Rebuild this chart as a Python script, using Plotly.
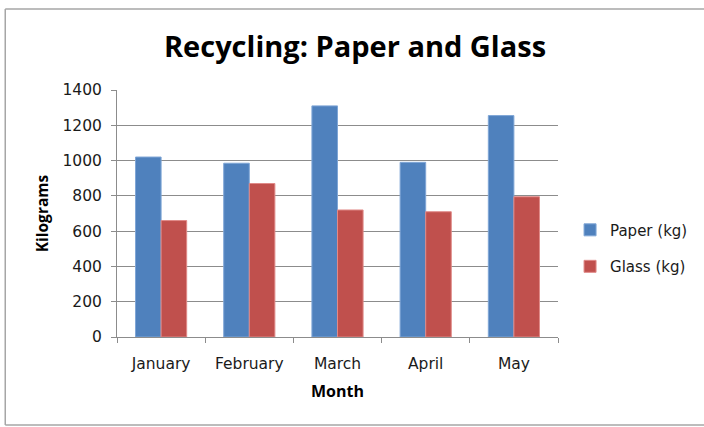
import plotly.graph_objects as go

months = ["January", "February", "March", "April", "May"]
paper_kg = [1020, 985, 1310, 990, 1255]
glass_kg = [660, 870, 720, 710, 795]
y_ticks = [0, 200, 400, 600, 800, 1000, 1200, 1400]

BLUE = "#4F81BD"
RED = "#C0504D"
GRID = "#8C8C8C"
TITLE_FONT = "'Open Sans', Lato, sans-serif"
LABEL_FONT = "'DejaVu Sans', 'Open Sans', sans-serif"
TXT = "#1a1a1a"

fig = go.Figure()
fig.add_trace(go.Bar(
    x=months, y=paper_kg, name="Paper (kg)", legendgroup="paper",
    marker=dict(color=BLUE, line=dict(color="#7FA6D6", width=1)),
))
fig.add_trace(go.Bar(
    x=months, y=glass_kg, name="Glass (kg)", legendgroup="glass",
    marker=dict(color=RED, line=dict(color="#E08A88", width=1)),
))

fig.update_layout(
    width=704, height=427,
    margin=dict(l=117, r=145, t=90, b=90),
    paper_bgcolor="white", plot_bgcolor="white",
    barmode="group", bargap=0.42, bargroupgap=0,
    font=dict(family=LABEL_FONT, size=15, color=TXT),
    title=dict(
        text="<b>Recycling: Paper and Glass</b>",
        x=355 / 704, xanchor="center", xref="container",
        y=1 - 47 / 427, yanchor="middle", yref="container",
        font=dict(family=TITLE_FONT, size=29, color="black"),
    ),
    legend=dict(
        x=1.025, xanchor="left", y=0.36, yanchor="middle",
        traceorder="grouped", tracegroupgap=14,
        font=dict(family=LABEL_FONT, size=15, color=TXT),
        bgcolor="rgba(0,0,0,0)",
        itemwidth=30,
    ),
    xaxis=dict(
        title=dict(text="<b>Month</b>", font=dict(family=TITLE_FONT, size=16, color="black"), standoff=14),
        tickson="boundaries", ticks="outside", ticklen=5, tickcolor=GRID,
        showline=True, linecolor=GRID, linewidth=1,
        showgrid=False,
        ticklabelstandoff=12,
        tickfont=dict(family=LABEL_FONT, size=15.5, color=TXT),
    ),
    yaxis=dict(
        title=dict(text="<b>Kilograms</b>", font=dict(family=TITLE_FONT, size=15.5, color="black"), standoff=10),
        range=[0, 1400], tickvals=y_ticks,
        ticks="outside", ticklen=5, tickcolor=GRID,
        showline=True, linecolor=GRID, linewidth=1,
        showgrid=True, gridcolor=GRID, gridwidth=1,
        zeroline=False,
        ticklabelstandoff=6,
        tickfont=dict(family=LABEL_FONT, size=15.5, color=TXT),
    ),
)

# chart frame: left, top and bottom edges in light gray
frame_x0 = (5 - 117) / 442
frame_x1 = (760 - 117) / 442
frame_y0 = (337 - 425) / 247
frame_y1 = (337 - 9) / 247
for x0, y0, x1, y1 in [
    (frame_x0, frame_y0, frame_x0, frame_y1),
    (frame_x0, frame_y1, frame_x1, frame_y1),
    (frame_x0, frame_y0, frame_x1, frame_y0),
]:
    fig.add_shape(type="line", xref="paper", yref="paper",
                  x0=x0, y0=y0, x1=x1, y1=y1,
                  line=dict(color="#A6A6A6", width=1.5), layer="below")

fig.write_html("out.html")
